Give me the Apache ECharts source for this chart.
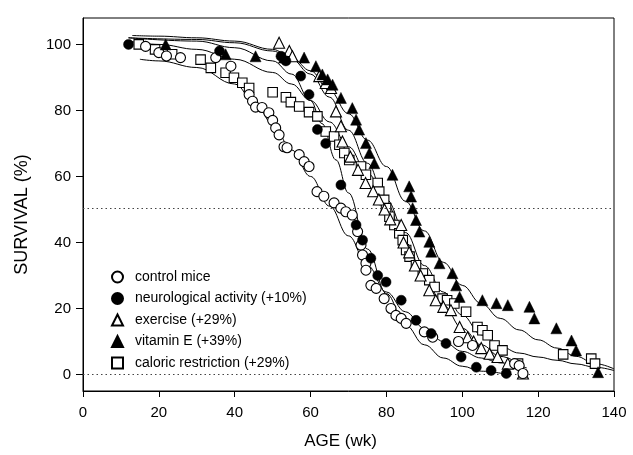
<!DOCTYPE html>
<html><head><meta charset="utf-8">
<script src="https://cdn.jsdelivr.net/npm/echarts@6/dist/echarts.min.js"></script>
<style>html,body{margin:0;padding:0;background:#fff}#c{width:633px;height:455px}</style>
</head><body><div id="c"></div>
<script>
// ---- data ----
const seriesNames = ["control mice","neurological activity (+10%)","exercise (+29%)","vitamin E (+39%)","caloric restriction (+29%)"];
const xTicks = [0,20,40,60,80,100,120,140];
const yTicks = [0,20,40,60,80,100];

const controlX = [16.5,20,22,25.7,35,39,43.8,44.7,45.5,47.2,49,50,50.8,51.7,53,53.8,57,58.3,59.6,61.7,63.5,66.2,68,69.3,71,72.4,73.3,73.7,74.6,74.6,75.9,77.3,79.4,81.2,82.5,83.9,85.2,90,92.2,99,102.7,113.8,115,116];
const controlY = [99.4,97.5,96.5,96,96,93.4,84.8,82.8,81,80.9,79.3,77,74.7,72.6,69,68.7,66.6,64.5,63,55.4,54,52,50.4,49.3,48.3,43.3,39.2,36.2,33.7,31.6,27,26.1,23,20,17.9,17,15.5,12.9,11.3,10,8.8,3.3,2.7,0.3];

const neuroX = [12,36,52.2,53.5,57.4,59.6,61.8,64,68,72,73.7,75.9,77.7,79.9,83.9,87.8,91.8,95.7,99.7,103.7,107.6,111.6];
const neuroY = [100,98,96.4,95,90.4,84.8,74.2,70,57.4,45.3,40.7,35.2,30,28,22.5,16.4,12.4,9.4,5.3,2.2,1.2,0.3];

const exerciseX = [51.7,54.4,55.2,62.3,64,65.4,66.7,68,68.4,70.5,72.5,74.5,76.5,78,79.5,81,83.9,84.5,86,87.5,89,91.3,93,95,97,99.3,101.4,103,105,107.2,109.3,112,116];
const exerciseY = [100.5,98,96.4,90.4,88.3,86.8,79.7,75.2,70.6,66,62,58,55.5,53,50,47,45.3,40,37,33,30,25.5,22.5,20.5,19.5,14.4,11.3,10,8,6.3,5.3,3.3,0.3];

const vitEX = [21.8,37.6,45.5,53,58.3,61.4,63.1,64.5,65.8,68,71,72,72.8,74.6,75.5,76.8,81.6,86,86.5,86.9,87.8,88.7,91.3,91.8,94,97.4,98.4,99.3,105.3,109,112,117.7,119,124.8,128.8,130,135.8];
const vitEY = [100,97,96.4,96,96,93.4,90.9,89.4,87.8,83.8,80.7,77.2,74.2,70.1,67.1,64,60.5,57,53.9,50.4,46.8,43.3,40.2,37.2,33.7,30.7,27,23.5,22.5,21.6,21,20.5,17,14,10.3,7.3,0.7];

const caloricX = [14.7,19,23.5,31,33.7,37.6,39.8,42,43.8,50,53.5,54.8,57,59.6,61.8,64,66.2,67.6,68.9,70.2,73.3,74.6,77.7,78.1,79.4,79.9,80.8,82.1,83.4,84.3,85.2,86.1,87.8,89.6,91.3,92.7,94.8,96,97.9,101,104,105.3,106.7,108.5,110.6,114.7,126.6,134,135];
const caloricY = [100,98.5,97,95.4,92.9,91.4,89.9,88.4,86.8,85.5,84,82.5,81.2,79.5,78.2,73.6,72.1,69.6,67.1,65,63,60.5,58,55.4,52.9,50.4,47.8,45.3,42.8,40.7,37.7,35.7,33.1,30.6,28.6,26.5,23,22.5,21.5,19,14.4,13.4,11.9,8.8,7.3,3.3,6.1,4.8,3.3];

// fitted curves
const controlFitX = [15,20,30,40,45,50,55,60,65,70,75,80,85,90,95,100,105,110,117];
const controlFitY = [95.5,95,93,88,83,76,68,60,51,42,33,25,19,14,10,7,5,3.5,2];
const neuroFitX = [12,30,40,50,55,60,63,66.7,70,75,80,85,90,95,100,105,112];
const neuroFitY = [102,101,99,95,91,83,76,65,55,38,24.5,15,9,5,2.5,1,0];
const exerciseFitX = [12,30,40,50,55,60,65,70,75,80,85,90,95,100,105,110,116];
const exerciseFitY = [102,101.5,100.5,98,95.5,91,84,74,64,52,40,29.5,21,14,9,5.5,2.5];
const vitEFitX = [13,20,30,40,50,55,60,65,70,75,80,85,90,95,100,105,110,115,120,125,130,135,140];
const vitEFitY = [102.7,102.5,102,101,98.5,96,92,86,79,71,63,52.5,43.5,34,27,21.5,17,13.5,10.5,8,5.5,3.3,1.7];
const caloricFitX = [12,20,30,40,50,55,60,65,70,75,80,85,90,95,100,105,110,115,120,125,130,135,140];
const caloricFitY = [101,100,98.5,95.5,91.5,88,83,76.5,69,61,53,43,33,25,18,12,8.5,6.5,5.3,4.3,3.2,2.2,1.2];

const refLines = [0, 50.5];

// ---- build ----
const zip = (xs, ys) => xs.map((x, i) => [x, ys[i]]);
const FONT = 'Liberation Sans, Arial, sans-serif';
const open = {color:'#fff', borderColor:'#000', borderWidth:1.1, opacity:1};
const fill = {color:'#000', borderColor:'#000', borderWidth:0.5, opacity:1};

function scatter(name, xs, ys, symbol, size, style, z){
  return {name, type:'scatter', data: zip(xs, ys), symbol, symbolSize:size, itemStyle:style, z, silent:true};
}
function curve(xs, ys){
  return {type:'line', data: zip(xs, ys), smooth:0.4, smoothMonotone:'x', showSymbol:false, symbol:'none',
    lineStyle:{color:'#000', width:1}, z:2, silent:true};
}

const series = [
  curve(controlFitX, controlFitY),
  curve(neuroFitX, neuroFitY),
  curve(exerciseFitX, exerciseFitY),
  curve(vitEFitX, vitEFitY),
  curve(caloricFitX, caloricFitY),
  scatter(seriesNames[4], caloricX, caloricY, 'rect', 9.5, open, 3),
  scatter(seriesNames[2], exerciseX, exerciseY, 'triangle', 11, open, 4),
  scatter(seriesNames[0], controlX, controlY, 'circle', 10, open, 5),
  scatter(seriesNames[3], vitEX, vitEY, 'triangle', 11, fill, 6),
  scatter(seriesNames[1], neuroX, neuroY, 'circle', 10, fill, 7),
  {type:'line', data:[], markLine:{silent:true, symbol:'none', label:{show:false},
    lineStyle:{type:[1.5,3], color:'#444', width:1},
    data: refLines.map(v => ({yAxis:v}))}, z:1}
];

const chart = echarts.init(document.getElementById('c'), null, {renderer:'canvas'});
chart.setOption({
  animation:false,
  backgroundColor:'#fff',
  grid:{left:83, right:19, top:18, bottom:64, show:true, borderColor:'#000', borderWidth:1,
    backgroundColor:'transparent', containLabel:false, outerBoundsMode:'none'},
  legend:{
    data: seriesNames.map(n => ({name:n})),
    orient:'vertical', left:106, top:265, itemGap:7.5, itemWidth:11, itemHeight:11,
    textStyle:{fontFamily:FONT, fontSize:14, color:'#000', padding:[0,0,0,7], lineHeight:13},
    selectedMode:false
  },
  xAxis:{
    type:'value', min:0, max:140, interval:20,
    name:'AGE (wk)', nameLocation:'middle', nameGap:42,
    nameTextStyle:{fontFamily:FONT, fontSize:17, color:'#000', padding:[0,16,0,0]},
    axisLine:{show:true, onZero:false, lineStyle:{color:'#000', width:1}},
    axisTick:{show:true, inside:false, length:6, lineStyle:{color:'#000'}},
    axisLabel:{fontFamily:FONT, fontSize:15, color:'#000', margin:14},
    splitLine:{show:false}
  },
  yAxis:{
    type:'value', min:-5, max:108,
    name:'SURVIVAL (%)', nameLocation:'middle', nameGap:52, nameRotate:90,
    nameTextStyle:{fontFamily:FONT, fontSize:18, color:'#000', padding:[0,20,0,0]},
    axisLine:{show:true, onZero:false, lineStyle:{color:'#000', width:1}},
    axisTick:{show:true, inside:false, length:7, lineStyle:{color:'#000'}, customValues: yTicks},
    axisLabel:{fontFamily:FONT, fontSize:15, color:'#000', margin:12, customValues: yTicks},
    splitLine:{show:false}
  },
  series
});
</script></body></html>
